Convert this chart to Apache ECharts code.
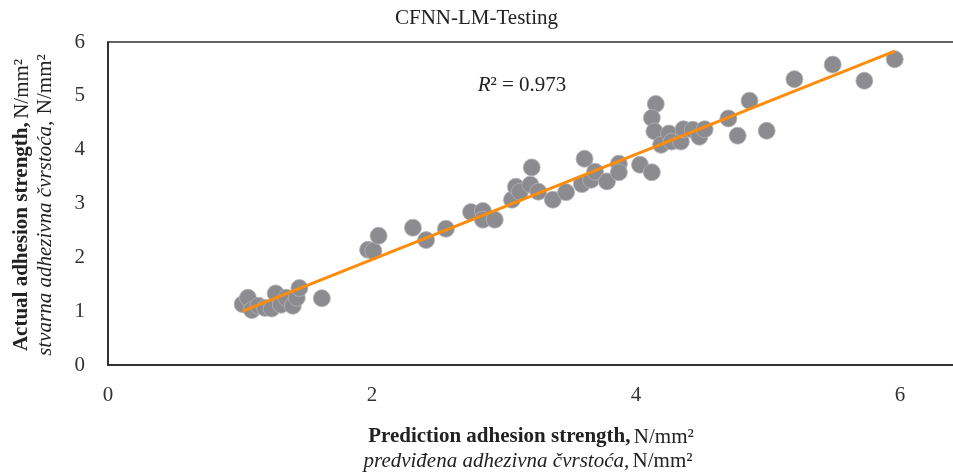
<!DOCTYPE html>
<html>
<head>
<meta charset="utf-8">
<script src="https://cdn.jsdelivr.net/npm/echarts@6/dist/echarts.min.js"></script>
<style>html,body{margin:0;padding:0;background:#fff;}#c{width:953px;height:476px;}</style>
</head>
<body>
<div id="c"></div>
<script>
const titleText = 'CFNN-LM-Testing';
const xTicks = [0, 2, 4, 6];
const yTicks = [0, 1, 2, 3, 4, 5, 6];
const predX = [1.02,1.06,1.09,1.14,1.19,1.24,1.27,1.31,1.35,1.40,1.43,1.45,1.62,
  1.97,2.01,2.05,2.31,2.41,2.56,2.75,2.84,2.84,2.93,3.06,3.09,3.12,3.20,3.21,3.26,3.37,3.47,3.59,3.61,3.66,3.69,3.78,3.87,3.87,4.03,4.12,
  4.15,4.12,4.14,4.19,4.25,4.27,4.34,4.36,4.43,4.48,4.52,4.70,4.77,4.86,4.99,5.20,5.49,5.73,5.96];
const actualY = [1.13,1.25,1.02,1.10,1.06,1.05,1.33,1.12,1.25,1.10,1.25,1.43,1.24,
  2.14,2.12,2.40,2.55,2.32,2.53,2.84,2.86,2.70,2.70,3.07,3.31,3.22,3.35,3.67,3.22,3.07,3.21,3.36,3.83,3.44,3.59,3.41,3.74,3.58,3.72,3.58,
  4.85,4.59,4.34,4.09,4.30,4.15,4.15,4.38,4.37,4.24,4.38,4.58,4.26,4.91,4.35,5.31,5.58,5.28,5.68];
const trendX = [1.02, 5.96];
const trendY = [1.00, 5.83];
const r2Text = '0.973';

const serif = 'Liberation Serif';
const fs = 21;
const chart = echarts.init(document.getElementById('c'));
chart.setOption({
  animation: false,
  backgroundColor: '#fff',
  title: {text: titleText, left: 'center', top: 3, textStyle: {fontFamily: serif, fontSize: fs, fontWeight: 'normal', color: '#222'}},
  grid: {left: 108, top: 42, height: 323, width: 1056, outerBoundsMode: 'none', containLabel: false,
    show: true, borderColor: '#333', borderWidth: 1.5, backgroundColor: 'transparent'},
  xAxis: {type: 'value', min: 0, max: 8, interval: 2,
    axisLine: {show: true, lineStyle: {color: '#222', width: 1.5}}, axisTick: {show: false}, splitLine: {show: false},
    axisLabel: {fontFamily: serif, fontSize: fs, color: '#333', margin: 20,
      formatter: v => xTicks.includes(v) ? String(v) : ''}},
  yAxis: {type: 'value', min: 0, max: 6, interval: 1,
    axisLine: {show: true, lineStyle: {color: '#222', width: 1.5}}, axisTick: {show: false}, splitLine: {show: false},
    axisLabel: {fontFamily: serif, fontSize: fs, color: '#333', margin: 23,
      formatter: v => yTicks.includes(v) ? String(v) : ''}},
  series: [
    {type: 'scatter', data: predX.map((x, i) => [x, actualY[i]]), symbolSize: 17, z: 2,
      itemStyle: {color: '#8c8c90', borderColor: '#b4b4b6', borderWidth: 0.8, opacity: 1}},
    {type: 'line', data: trendX.map((x, i) => [x, trendY[i]]), symbol: 'none', z: 3,
      lineStyle: {color: '#ff8c0a', width: 3}}
  ],
  graphic: [
    {type: 'text', x: 522, y: 85, style: {text: '{i|R}{n|² = ' + r2Text + '}', align: 'center', verticalAlign: 'middle',
      rich: {i: {fontStyle: 'italic', fontFamily: serif, fontSize: fs, fill: '#222'}, n: {fontFamily: serif, fontSize: fs, fill: '#222'}}}},
    {type: 'text', x: 22, y: 205, rotation: Math.PI / 2, style: {text: '{b|Actual adhesion strength,} {n|N/mm²}', align: 'center', verticalAlign: 'middle',
      rich: {b: {fontWeight: 'bold', fontFamily: serif, fontSize: fs, fill: '#222'}, n: {fontFamily: serif, fontSize: fs, fill: '#222'}}}},
    {type: 'text', x: 45, y: 205, rotation: Math.PI / 2, style: {text: '{i|stvarna adhezivna čvrstoća,}  {n|N/mm²}', align: 'center', verticalAlign: 'middle',
      rich: {i: {fontStyle: 'italic', fontFamily: serif, fontSize: fs, fill: '#222'}, n: {fontFamily: serif, fontSize: fs, fill: '#222'}}}},
    {type: 'text', x: 531, y: 437, style: {text: '{b|Prediction adhesion strength,} {n|N/mm²}', align: 'center', verticalAlign: 'middle',
      rich: {b: {fontWeight: 'bold', fontFamily: serif, fontSize: fs, fill: '#222'}, n: {fontFamily: serif, fontSize: fs, fill: '#222'}}}},
    {type: 'text', x: 528, y: 461, style: {text: '{i|predviđena adhezivna čvrstoća,} {n|N/mm²}', align: 'center', verticalAlign: 'middle',
      rich: {i: {fontStyle: 'italic', fontFamily: serif, fontSize: fs, fill: '#222'}, n: {fontFamily: serif, fontSize: fs, fill: '#222'}}}}
  ]
});
</script>
</body>
</html>
